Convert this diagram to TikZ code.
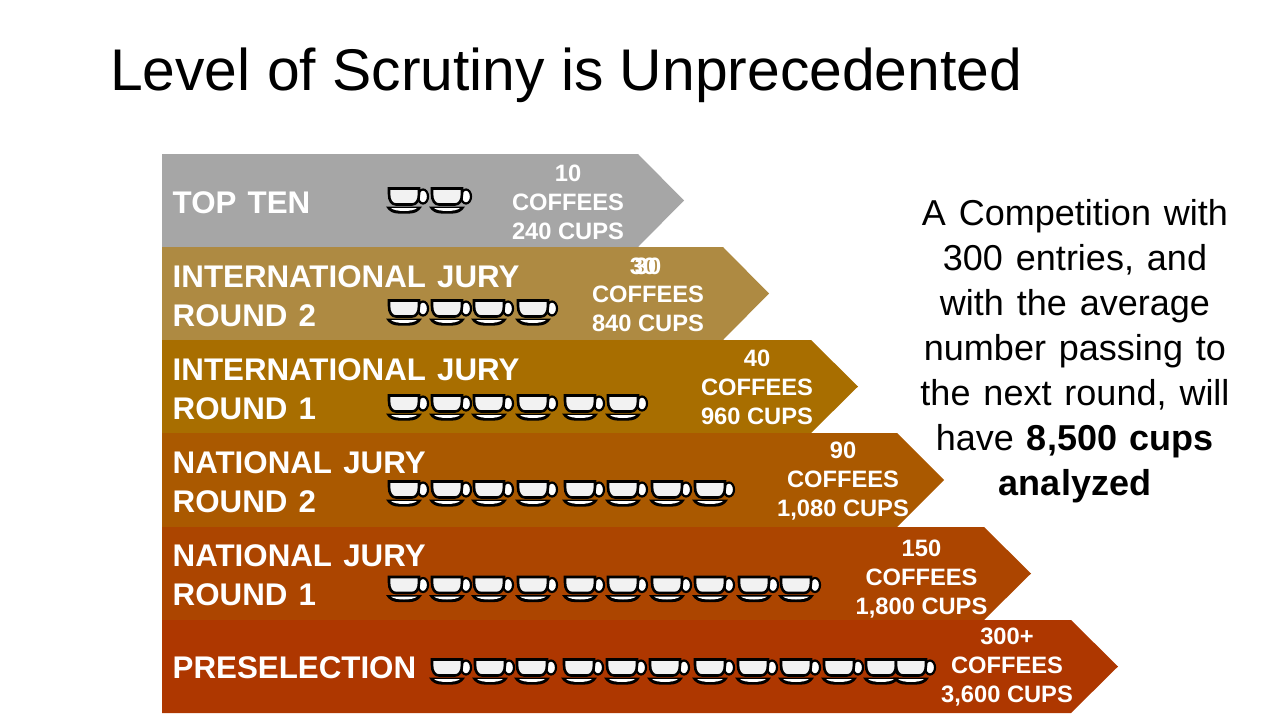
\documentclass[tikz,border=0pt]{standalone}
\usepackage{fontspec}
\setmainfont{Liberation Sans}
\definecolor{bandgrey}{HTML}{A6A6A6}
\definecolor{bandtan}{HTML}{AE8A42}
\definecolor{bandgold}{HTML}{A86E00}
\definecolor{bandamber}{HTML}{AA5900}
\definecolor{bandrust}{HTML}{AC4500}
\definecolor{bandred}{HTML}{AE3700}
\newcommand{\widewords}{\spaceskip=.36em\relax}
\tikzset{
  bandtitle/.style={anchor=west, align=left, text=white, inner sep=0pt, font=\fontsize{31.3}{39}\selectfont\bfseries\widewords},
  bandcount/.style={align=center, text=white, inner sep=0pt, font=\fontsize{23.7}{29}\selectfont\bfseries},
  cup/.pic={
    \fill[black] (0,18.5) -- (36,18.5) .. controls (33,24) and (28,25.5) .. (24,25.5) -- (12,25.5) .. controls (8,25.5) and (3,24) .. (0,18.5) -- cycle;
    \fill[white] (5,20) -- (31,20) .. controls (27,24) and (9,24) .. (5,20) -- cycle;
    \draw[line width=2.2pt, fill=white] (37,8.5) ellipse (5 and 7);
    \draw[line width=2.6pt, fill=white!95!black] (3,0.5) -- (33,0.5) -- (33,6) .. controls (33,13) and (30,16.5) .. (26,16.5) -- (10,16.5) .. controls (6,16.5) and (3,13) .. (3,6) -- cycle;
  }
}
\begin{document}
\begin{tikzpicture}[x=1pt, y=-1pt]
\useasboundingbox (0,0) rectangle (1280,720);

\node[anchor=base west, inner sep=0pt, font=\fontsize{58.8}{60}\selectfont] (title) at (110,90) {Level of Scrutiny is Unprecedented};

% Top ten
\fill[bandgrey] (162,154) -- (638,154) -- (684,200.5) -- (638,247) -- (162,247) -- cycle;
\node[bandtitle] (top) at (172.5,202.5) {TOP TEN};
\node[bandcount] (topcount) at (568,202) {10\\COFFEES\\240 CUPS};
\foreach \x in {386,429} \pic at (\x,188) {cup};

% International jury, round 2
\fill[bandtan] (162,247) -- (723,247) -- (769,293.5) -- (723,340) -- (162,340) -- cycle;
\node[bandtitle] (intltwo) at (172.5,296) {INTERNATIONAL JURY\\ROUND 2};
\node[bandcount] (intltwocount) at (648,294.5) {\phantom{0}\\COFFEES\\840 CUPS};
\node[bandcount] (intltwoa) at (643,266) {30};
\node[bandcount] (intltwob) at (648,266) {30};
\foreach \x in {386,429,471,515} \pic at (\x,300) {cup};

% International jury, round 1
\fill[bandgold] (162,340) -- (811,340) -- (858,386.5) -- (811,433) -- (162,433) -- cycle;
\node[bandtitle] (intlone) at (172.5,389) {INTERNATIONAL JURY\\ROUND 1};
\node[bandcount] (intlonecount) at (757,387) {40\\COFFEES\\960 CUPS};
\foreach \x in {386,429,471,515,562,605} \pic at (\x,395) {cup};

% National jury, round 2
\fill[bandamber] (162,433) -- (897,433) -- (944,480) -- (897,527) -- (162,527) -- cycle;
\node[bandtitle] (nattwo) at (172.5,482) {NATIONAL JURY\\ROUND 2};
\node[bandcount] (nattwocount) at (843,481) {90\\COFFEES\\1,080 CUPS};
\foreach \x in {386,429,471,515,562,605,649,692} \pic at (\x,481) {cup};

% National jury, round 1
\fill[bandrust] (162,527) -- (984,527) -- (1031,573.5) -- (984,620) -- (162,620) -- cycle;
\node[bandtitle] (natone) at (172.5,575.5) {NATIONAL JURY\\ROUND 1};
\node[bandcount] (natonecount) at (921.5,579) {150\\COFFEES\\1,800 CUPS};
\foreach \x in {386,429,471,515,562,605,649,692,736,778} \pic at (\x,576.5) {cup};

% Preselection
\fill[bandred] (162,620) -- (1071,620) -- (1118,666.5) -- (1071,713) -- (162,713) -- cycle;
\node[bandtitle] (pre) at (172.5,668) {PRESELECTION};
\node[bandcount] (precount) at (1007,667) {300+\\COFFEES\\3,600 CUPS};
\foreach \x in {429,472,514,561,604,647,692,735,778,821,863,893} \pic at (\x,659) {cup};

\node[align=center, inner sep=0pt, font=\fontsize{36}{45}\selectfont\widewords] (note) at (1075,351) {A Competition with\\300 entries, and\\with the average\\number passing to\\the next round, will\\have \textbf{8,500 cups}\\\textbf{analyzed}};
\end{tikzpicture}
\end{document}
